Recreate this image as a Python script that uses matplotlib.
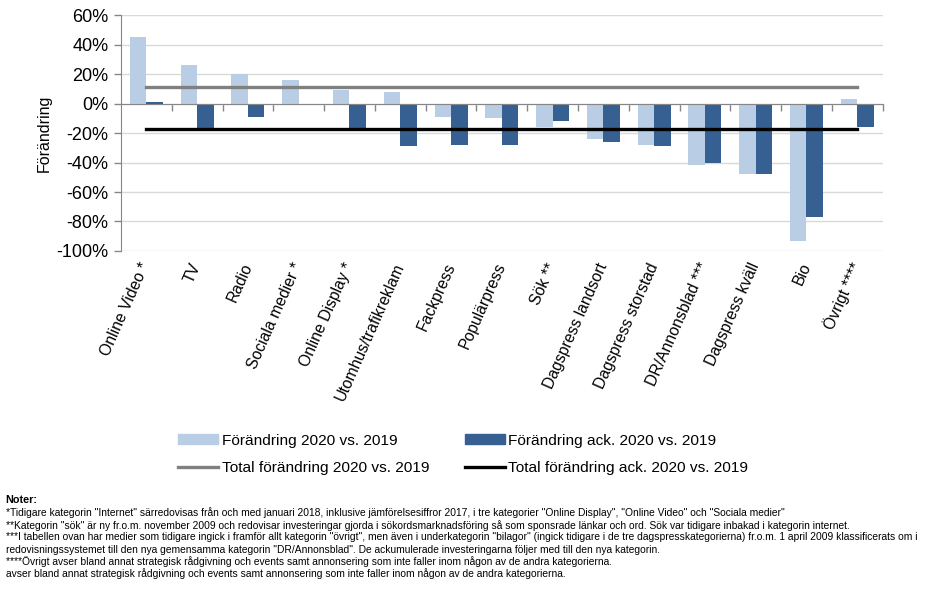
import numpy as np
import matplotlib.pyplot as plt
from matplotlib.transforms import blended_transform_factory
from matplotlib.patches import Patch
from matplotlib.lines import Line2D

plt.rcParams['font.family'] = ['Liberation Sans', 'DejaVu Sans']

categories = ['Online Video *', 'TV', 'Radio', 'Sociala medier *', 'Online Display *',
              'Utomhus/trafikreklam', 'Fackpress', 'Populärpress', 'Sök **',
              'Dagspress landsort', 'Dagspress storstad', 'DR/Annonsblad ***',
              'Dagspress kväll', 'Bio', 'Övrigt ****']
change = [45, 26, 20, 16, 9, 8, -9, -9.5, -16, -24, -28, -42, -48, -93, 3]
change_acc = [1, -17, -9, -1, -17, -29, -28, -28, -12, -26, -29, -40, -48, -77, -16]
total_change = 11
total_change_acc = -17

notes = [
    '*Tidigare kategorin "Internet" särredovisas från och med januari 2018, inklusive jämförelsesiffror 2017, i tre kategorier "Online Display", "Online Video" och "Sociala medier"',
    '**Kategorin "sök" är ny fr.o.m. november 2009 och redovisar investeringar gjorda i sökordsmarknadsföring så som sponsrade länkar och ord. Sök var tidigare inbakad i kategorin internet.',
    '***I tabellen ovan har medier som tidigare ingick i framför allt kategorin "övrigt", men även i underkategorin "bilagor" (ingick tidigare i de tre dagspresskategorierna) fr.o.m. 1 april 2009 klassificerats om i',
    'redovisningssystemet till den nya gemensamma kategorin "DR/Annonsblad". De ackumulerade investeringarna följer med till den nya kategorin.',
    '****Övrigt avser bland annat strategisk rådgivning och events samt annonsering som inte faller inom någon av de andra kategorierna.',
    'avser bland annat strategisk rådgivning och events samt annonsering som inte faller inom någon av de andra kategorierna.',
]

light = '#B9CDE5'
dark = '#366092'

fig = plt.figure(figsize=(9.45, 5.91), dpi=100)
ax = fig.add_axes([0.128, 0.5753, 0.806, 0.3993])

x = np.arange(len(categories))
w = 0.325
ax.bar(x - w / 2, change, w, color=light, zorder=2)
ax.bar(x + w / 2, change_acc, w, color=dark, zorder=2)
ax.plot([x[0], x[-1]], [total_change, total_change], color='#808080', lw=2.4, zorder=3)
ax.plot([x[0], x[-1]], [total_change_acc, total_change_acc], color='black', lw=2.4, zorder=3)

ax.set_xlim(-0.5, len(categories) - 0.5)
ax.set_ylim(-100, 60)
ax.set_yticks(np.arange(-100, 61, 20))
ax.set_yticklabels([f'{v}%' for v in range(-100, 61, 20)], fontsize=13)
ax.yaxis.grid(True, color='#D9D9D9', lw=1, zorder=0)
ax.set_axisbelow(True)
ax.tick_params(axis='y', color='#868686', length=5, width=1, pad=4)

for s in ['top', 'right']:
    ax.spines[s].set_visible(False)
ax.spines['left'].set_color('#868686')
ax.spines['bottom'].set_position(('data', 0))
ax.spines['bottom'].set_color('#868686')
ax.set_xticks(np.arange(0.5, len(categories), 1))
ax.set_xticklabels([])
ax.tick_params(axis='x', color='#868686', length=5, width=1, direction='out')

trans = blended_transform_factory(ax.transData, ax.transAxes)
for i, c in enumerate(categories):
    ax.annotate(c, xy=(i, 0), xycoords=trans, xytext=(0, -9), textcoords='offset points',
                rotation=66, rotation_mode='anchor', ha='right', va='center', fontsize=11.3)

ax.set_ylabel('Förändring', fontsize=11.5, labelpad=3)

handles = [Patch(color=light), Line2D([], [], color='#808080', lw=2.4),
           Patch(color=dark), Line2D([], [], color='black', lw=2.4)]
labels = ['Förändring 2020 vs. 2019', 'Total förändring 2020 vs. 2019',
          'Förändring ack. 2020 vs. 2019', 'Total förändring ack. 2020 vs. 2019']
fig.legend(handles, labels, loc='upper left', bbox_to_anchor=(0.188, 0.266), ncol=2,
           frameon=False, fontsize=11.1, handlelength=2.6, handleheight=0.6,
           handletextpad=0.25, columnspacing=2.3, labelspacing=0.85,
           borderpad=0, borderaxespad=0)

fig.text(0.006, 1 - 500 / 591, 'Noter:', fontsize=7.8, fontweight='bold', va='center')
for k, line in enumerate(notes):
    fig.text(0.006, 1 - (513 + 12.2 * k) / 591, line, fontsize=7.4, va='center')

fig.savefig('out.png', dpi=100)
